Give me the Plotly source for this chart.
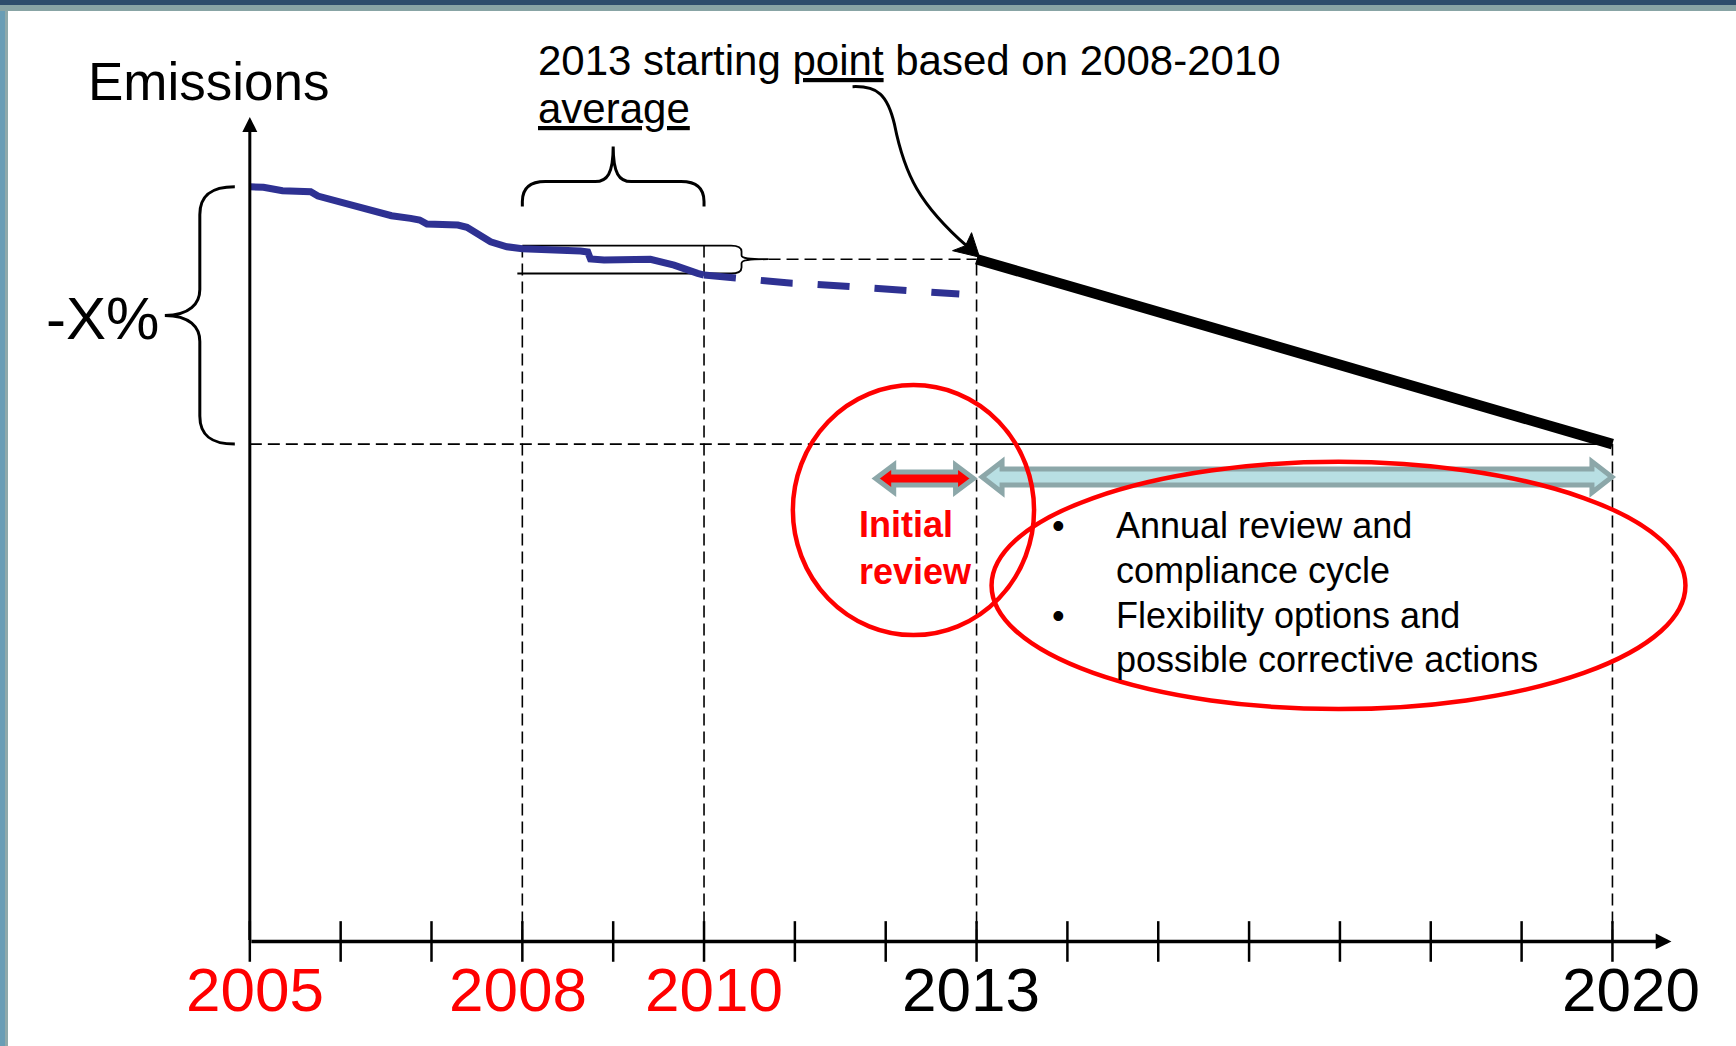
import plotly.graph_objects as go

# ---------------------------------------------------------------- data
hist_years = [2005.00, 2005.15, 2005.36, 2005.62, 2005.67, 2005.75, 2006.09,
              2006.48, 2006.56, 2006.77, 2006.87, 2006.95, 2007.29, 2007.39,
              2007.65, 2007.83, 2008.00, 2008.64, 2008.72, 2008.75, 2008.90,
              2009.41, 2009.67, 2009.93, 2010.00]
hist_emissions = [100.0, 99.92, 99.47, 99.26, 99.34, 98.77, 97.58,
                  96.25, 96.16, 95.81, 95.59, 95.06, 94.93, 94.62,
                  92.71, 92.05, 91.79, 91.48, 91.35, 90.42, 90.29,
                  90.38, 89.62, 88.53, 88.30]

proj_years = [2010.00, 2010.35, 2010.63, 2010.97, 2011.23, 2011.59,
              2011.86, 2012.22, 2012.48, 2012.81]
proj_emissions = [88.30, 87.87, 87.51, 87.20, 87.07, 86.75,
                  86.54, 86.22, 85.96, 85.78]

target_years = [2013, 2020]
target_emissions = [90.4, 65.9]

avg_years = [2008, 2010]
avg_band = [88.5, 92.2]          # low / high of the 2008-2010 emissions

axis_years = list(range(2005, 2021))
label_years = [2005, 2008, 2010, 2013, 2020]
label_colors = ["#FF0000", "#FF0000", "#FF0000", "#000000", "#000000"]
label_nudge = [5, -4.5, 9.5, -6, 19]

bullet_lines = ["Annual review and", "compliance cycle",
                "Flexibility options and", "possible corrective actions"]

# ---------------------------------------------------------------- geometry
W, H = 1736, 1046
X_RANGE = [2002.25, 2021.36]
Y_RANGE = [-13.85, 124.74]
KX = W / (X_RANGE[1] - X_RANGE[0])      # px per year
KY = H / (Y_RANGE[1] - Y_RANGE[0])      # px per emission unit

FONT = "Liberation Sans, Arial, Helvetica, sans-serif"
BLUE = "#2E3192"
RED = "#FF0000"


def xv(year, dxp=0.0):
    return year + dxp / KX


def yv(val, dyp=0.0):
    # dyp: pixels downward
    return val - dyp / KY


def pt(year, val, dxp=0.0, dyp=0.0):
    return f"{xv(year, dxp):.5f},{yv(val, dyp):.5f}"


def double_arrow(xa, xb, yc, dyc, pad_a, pad_b, body, head, length):
    p = [(xa, pad_a, 0), (xa, pad_a + length, -head), (xa, pad_a + length, -body),
         (xb, -pad_b - length, -body), (xb, -pad_b - length, -head), (xb, -pad_b, 0),
         (xb, -pad_b - length, head), (xb, -pad_b - length, body),
         (xa, pad_a + length, body), (xa, pad_a + length, head)]
    return "M" + " L".join(pt(x, yc, dx, dyc + dy) for x, dx, dy in p) + " Z"


start13, end20 = target_emissions
mid_brace = (hist_emissions[0] + end20) / 2
top_brace_y = yv(avg_band[1], -64)        # level of the bracket over 2008-2010

fig = go.Figure()

# ---------------------------------------------------------------- traces
fig.add_trace(go.Scatter(x=hist_years, y=hist_emissions, mode="lines",
                         line=dict(color=BLUE, width=7), hoverinfo="skip"))
fig.add_trace(go.Scatter(x=proj_years, y=proj_emissions, mode="lines",
                         line=dict(color=BLUE, width=7, dash="32px,25px"),
                         hoverinfo="skip"))
fig.add_trace(go.Scatter(x=target_years, y=target_emissions, mode="lines",
                         line=dict(color="black", width=10.5), hoverinfo="skip"))
fig.add_trace(go.Scatter(x=axis_years, y=[0] * len(axis_years), mode="markers",
                         marker=dict(symbol="line-ns", size=29,
                                     line=dict(color="black", width=2.5)),
                         hoverinfo="skip"))

shapes = []
DASH = "12px,6px"

# vertical guides
for yr, top in [(avg_years[0], avg_band[1]), (avg_years[1], avg_band[1]),
                (target_years[0], start13), (target_years[1], end20)]:
    shapes.append(dict(type="line", xref="x", yref="y", x0=yr, x1=yr, y0=0, y1=top,
                       line=dict(color="black", width=1.6, dash=DASH), layer="below"))

# reduction level: dashed up to 2013, solid afterwards
shapes.append(dict(type="line", xref="x", yref="y", x0=2005, x1=2013, y0=end20, y1=end20,
                   line=dict(color="black", width=1.6, dash=DASH), layer="below"))
shapes.append(dict(type="line", xref="x", yref="y", x0=2013, x1=2020, y0=end20, y1=end20,
                   line=dict(color="black", width=1.8), layer="below"))

# 2008-2010 band with small brace pointing to the 2013 starting point
lo, hi = avg_band
band = (f"M{pt(2008, hi)} L{pt(2010, hi, 27)} "
        f"C{pt(2010, hi, 35)} {pt(2010, hi, 37.5, 2.5)} {pt(2010, hi, 37.5, 6)} "
        f"L{pt(2010, start13, 37.5, -4)} "
        f"C{pt(2010, start13, 37.5, -1)} {pt(2010, start13, 44)} {pt(2010, start13, 64.5)} "
        f"C{pt(2010, start13, 44)} {pt(2010, start13, 37.5, 1)} {pt(2010, start13, 37.5, 4)} "
        f"L{pt(2010, lo, 37.5, -6)} "
        f"C{pt(2010, lo, 37.5, -2.5)} {pt(2010, lo, 35)} {pt(2010, lo, 27)} "
        f"L{pt(2008, lo, -5)}")
shapes.append(dict(type="path", xref="x", yref="y", path=band,
                   line=dict(color="black", width=1.8), layer="below"))
shapes.append(dict(type="line", xref="x", yref="y", x0=xv(2010, 64.5), x1=2013,
                   y0=start13, y1=start13,
                   line=dict(color="black", width=1.6, dash=DASH), layer="below"))

# big brace spanning the -X% reduction
b0 = hist_emissions[0]
big = (f"M{pt(2005, b0, -15)} C{pt(2005, b0, -38)} {pt(2005, b0, -50, 8)} {pt(2005, b0, -50, 28)} "
       f"L{pt(2005, mid_brace, -50, -26)} "
       f"C{pt(2005, mid_brace, -50, -12)} {pt(2005, mid_brace, -60)} {pt(2005, mid_brace, -85)} "
       f"C{pt(2005, mid_brace, -60)} {pt(2005, mid_brace, -50, 12)} {pt(2005, mid_brace, -50, 26)} "
       f"L{pt(2005, end20, -50, -28)} "
       f"C{pt(2005, end20, -50, -8)} {pt(2005, end20, -38)} {pt(2005, end20, -15)}")
shapes.append(dict(type="path", xref="x", yref="y", path=big,
                   line=dict(color="black", width=3)))

# curly bracket over 2008-2010
arm = yv(avg_band[1], -39)
tb = top_brace_y
top = (f"M{pt(2008, arm)} L{pt(2008, tb, 0, 20)} "
       f"C{pt(2008, tb, 0, 6)} {pt(2008, tb, 8)} {pt(2008, tb, 23)} "
       f"L{pt(2009, tb, -18)} "
       f"C{pt(2009, tb, -6)} {pt(2009, tb, 0, -8)} {pt(2009, tb, 0, -35)} "
       f"C{pt(2009, tb, 0, -8)} {pt(2009, tb, 6)} {pt(2009, tb, 18)} "
       f"L{pt(2010, tb, -23)} "
       f"C{pt(2010, tb, -8)} {pt(2010, tb, 0, 6)} {pt(2010, tb, 0, 20)} "
       f"L{pt(2010, arm)}")
shapes.append(dict(type="path", xref="x", yref="y", path=top,
                   line=dict(color="black", width=3)))

# curved pointer to the 2013 starting point
curve = (f"M{pt(2013, start13, -124, -172.5)} "
         f"C{pt(2013, start13, -99, -173.5)} {pt(2013, start13, -89, -164.5)} {pt(2013, start13, -82, -134.5)} "
         f"C{pt(2013, start13, -72, -84.5)} {pt(2013, start13, -57, -54.5)} {pt(2013, start13, -9, -12.5)}")
shapes.append(dict(type="path", xref="x", yref="y", path=curve,
                   line=dict(color="black", width=3)))
head = (f"M{pt(2013, start13, 3, -2)} L{pt(2013, start13, -24, -8.5)} "
        f"L{pt(2013, start13, -11, -13.5)} L{pt(2013, start13, -5, -26.5)} Z")
shapes.append(dict(type="path", xref="x", yref="y", path=head,
                   fillcolor="black", line=dict(color="black", width=1)))

# compliance period arrow (2013-2020) and initial review arrow
shapes.append(dict(type="path", xref="x", yref="y",
                   path=double_arrow(2013, 2020, end20, 33, 5.5, 0.5, 8, 15.5, 20),
                   fillcolor="#B8DFE3", line=dict(color="#8CA7A9", width=5)))
shapes.append(dict(type="path", xref="x", yref="y",
                   path=double_arrow(2012, 2013, end20, 34.3, -10, 3, 6.5, 13.5, 18),
                   fillcolor=RED, line=dict(color="#8CA7A9", width=5)))

# highlight ellipses
shapes.append(dict(type="circle", xref="x", yref="y",
                   x0=xv(2013, -183.7), x1=xv(2013, 57.5),
                   y0=yv(end20, 191), y1=yv(end20, -59),
                   line=dict(color=RED, width=4.5)))
shapes.append(dict(type="circle", xref="x", yref="y",
                   x0=xv(2013, 15), x1=xv(2020, 73),
                   y0=yv(end20, 265), y1=yv(end20, 17.7),
                   line=dict(color=RED, width=4.5)))

# slide frame
shapes += [
    dict(type="rect", xref="paper", yref="paper", x0=0, x1=5 / W, y0=0, y1=1,
         fillcolor="#6A9DB5", line=dict(width=0)),
    dict(type="rect", xref="paper", yref="paper", x0=5 / W, x1=8 / W, y0=0, y1=1,
         fillcolor="#8FA9AA", line=dict(width=0)),
    dict(type="rect", xref="paper", yref="paper", x0=0, x1=1, y0=1 - 11 / H, y1=1 - 5 / H,
         fillcolor="#88A4A5", line=dict(width=0)),
    dict(type="rect", xref="paper", yref="paper", x0=0, x1=1, y0=1 - 5 / H, y1=1,
         fillcolor="#2D4D6C", line=dict(width=0)),
]

# ---------------------------------------------------------------- text
ann = []


def text(t, x, y, size, color="black", xanchor="center", yanchor="middle",
         xshift=0, yshift=0, align="left"):
    ann.append(dict(text=t, x=x, y=y, xref="x", yref="y", showarrow=False,
                    xanchor=xanchor, yanchor=yanchor, xshift=xshift, yshift=yshift,
                    align=align, font=dict(family=FONT, size=size, color=color)))


# axes with arrow heads
ann.append(dict(x=2005, y=yv(0, -824.5), ax=2005, ay=0, xref="x", yref="y",
                axref="x", ayref="y", text="", showarrow=True, arrowhead=2,
                arrowsize=1, arrowwidth=3, arrowcolor="black", standoff=0))
ann.append(dict(x=xv(2020, 59), y=0, ax=2005, ay=0, xref="x", yref="y",
                axref="x", ayref="y", text="", showarrow=True, arrowhead=2,
                arrowsize=0.9, arrowwidth=3.5, arrowcolor="black", standoff=0))

for yr, col, dx in zip(label_years, label_colors, label_nudge):
    text(str(yr), yr, yv(0, 48), 62, color=col, xshift=dx)

text("Emissions", 2005, 113.9, 53, xshift=-40.5)
text("-X%", 2005, mid_brace, 60, xshift=-147.5, yshift=-3)
text("2013 starting <u>point</u> based on 2008-2010", 2008, 116.7, 42,
     xanchor="left", xshift=13.5)
text("<u>average</u>", 2008, 110.3, 42, xanchor="left", xshift=13.5)

text("<b>Initial<br>review</b>", 2013, yv(end20, 103.9), 36, color=RED,
     xanchor="left", xshift=-119.4)

for i, line in enumerate(bullet_lines):
    y = yv(end20, 81.8 + 44.6 * i)
    text(line, 2013, y, 36, xanchor="left", xshift=137.5)
    if i in (0, 2):
        text("•", 2013, y, 36, xshift=82)

fig.update_layout(
    width=W, height=H,
    margin=dict(l=0, r=0, t=0, b=0, pad=0),
    paper_bgcolor="white", plot_bgcolor="white",
    showlegend=False,
    xaxis=dict(range=X_RANGE, visible=False, fixedrange=True),
    yaxis=dict(range=Y_RANGE, visible=False, fixedrange=True),
    font=dict(family=FONT),
    shapes=shapes,
    annotations=ann,
)

fig.write_html("out.html", config={"displayModeBar": False})
